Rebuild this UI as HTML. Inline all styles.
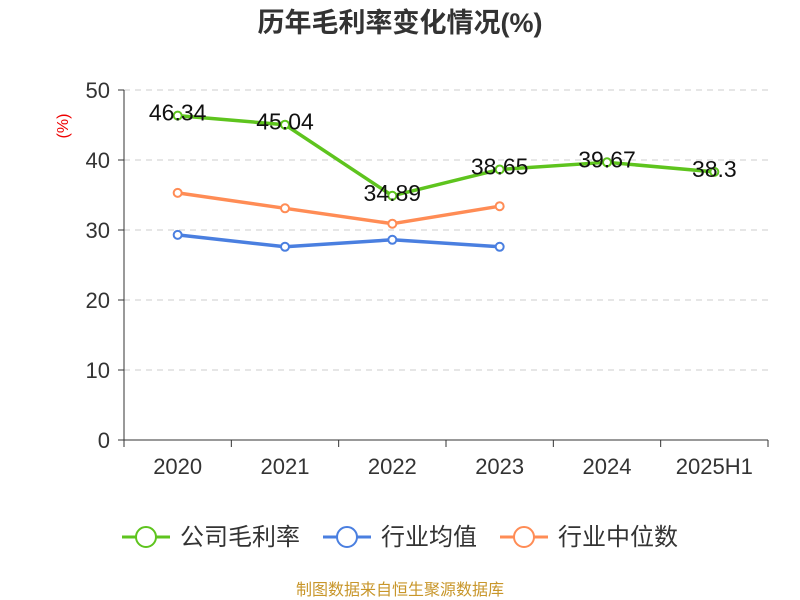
<!DOCTYPE html>
<html><head><meta charset="utf-8"><style>
body{margin:0;background:#fff;}
svg{display:block;font-family:"Liberation Sans","Noto Sans CJK SC",sans-serif;}
</style></head><body>
<svg id="chart" width="800" height="600">
<text x="400" y="32" text-anchor="middle" font-size="27" font-weight="bold" fill="#333">历年毛利率变化情况(%)</text>
<text x="0" y="0" transform="translate(68,126) rotate(-90)" text-anchor="middle" font-size="16" fill="#e00">(%)</text>
<g id="grid"></g><g id="axes"></g><g id="series"></g>
<g font-size="24" fill="#333">
<g><line x1="122" y1="537" x2="170" y2="537" stroke="#5ec41e" stroke-width="3"/><circle cx="146" cy="537" r="10" fill="#fff" stroke="#5ec41e" stroke-width="2"/><text x="180" y="545">公司毛利率</text></g>
<g><line x1="323" y1="537" x2="371" y2="537" stroke="#4a7fe0" stroke-width="3"/><circle cx="347" cy="537" r="10" fill="#fff" stroke="#4a7fe0" stroke-width="2"/><text x="381" y="545">行业均值</text></g>
<g><line x1="500" y1="537" x2="548" y2="537" stroke="#ff8c55" stroke-width="3"/><circle cx="524" cy="537" r="10" fill="#fff" stroke="#ff8c55" stroke-width="2"/><text x="558" y="545">行业中位数</text></g>
</g>
<text x="400" y="595" text-anchor="middle" font-size="16" fill="#c8962a">制图数据来自恒生聚源数据库</text>
</svg>
<script>
const categories=["2020","2021","2022","2023","2024","2025H1"];
const companyValues=[46.34,45.04,34.89,38.65,39.67,38.3];
const industryAvg=[29.3,27.6,28.6,27.6];
const industryMedian=[35.3,33.1,30.9,33.4];
const yTicks=[0,10,20,30,40,50];
const NS="http://www.w3.org/2000/svg";
const L=124,R=768,T=90,B=440,yMax=50;
const bw=(R-L)/categories.length;
const xs=i=>L+bw*(i+0.5);
const ys=v=>B-(v/yMax)*(B-T);
function mk(tag,attrs,parent){const e=document.createElementNS(NS,tag);for(const k in attrs)e.setAttribute(k,attrs[k]);document.getElementById(parent).appendChild(e);return e;}
yTicks.forEach(t=>{
  if(t>0){const g=mk('line',{x1:L,x2:R,y1:ys(t),y2:ys(t),stroke:'#ccc','stroke-dasharray':'6,5'},'grid');
  
  }
  const tk=mk('line',{x1:L-6,x2:L,y1:ys(t),y2:ys(t),stroke:'#333'},'axes');
  
  
  const tx=mk('text',{x:L-14,y:ys(t)+8,'text-anchor':'end','font-size':22,fill:'#333'},'axes');tx.textContent=t;
  
  
});
const ya=mk('line',{x1:L,x2:L,y1:T,y2:B,stroke:'#333'},'axes');


const xa=mk('line',{x1:L,x2:R,y1:B,y2:B,stroke:'#333'},'axes');


for(let i=0;i<=categories.length;i++){const tk=mk('line',{x1:L+bw*i,x2:L+bw*i,y1:B,y2:B+7,stroke:'#333'},'axes');
  
  }
categories.forEach((c,i)=>{const tx=mk('text',{x:xs(i),y:B+34,'text-anchor':'middle','font-size':22,fill:'#333'},'axes');tx.textContent=c;
  
  });
function series(vals,color,name,labels){
  const p=mk('polyline',{points:vals.map((v,i)=>xs(i)+','+ys(v)).join(' '),fill:'none',stroke:color,'stroke-width':3.5,'stroke-linejoin':'round'},'series');
  
  
  vals.forEach((v,i)=>{const c=mk('circle',{cx:xs(i),cy:ys(v),r:4,fill:'#fff',stroke:color,'stroke-width':2},'series');
    
    
    if(labels){const t=mk('text',{x:xs(i),y:ys(v)+5,'text-anchor':'middle','font-size':23,fill:'#111'},'series');t.textContent=v;
      
      }
  });
}
series(industryAvg,'#4a7fe0','industry-avg',false);
series(industryMedian,'#ff8c55','industry-median',false);
series(companyValues,'#5ec41e','company',true);
</script>
</body></html>
